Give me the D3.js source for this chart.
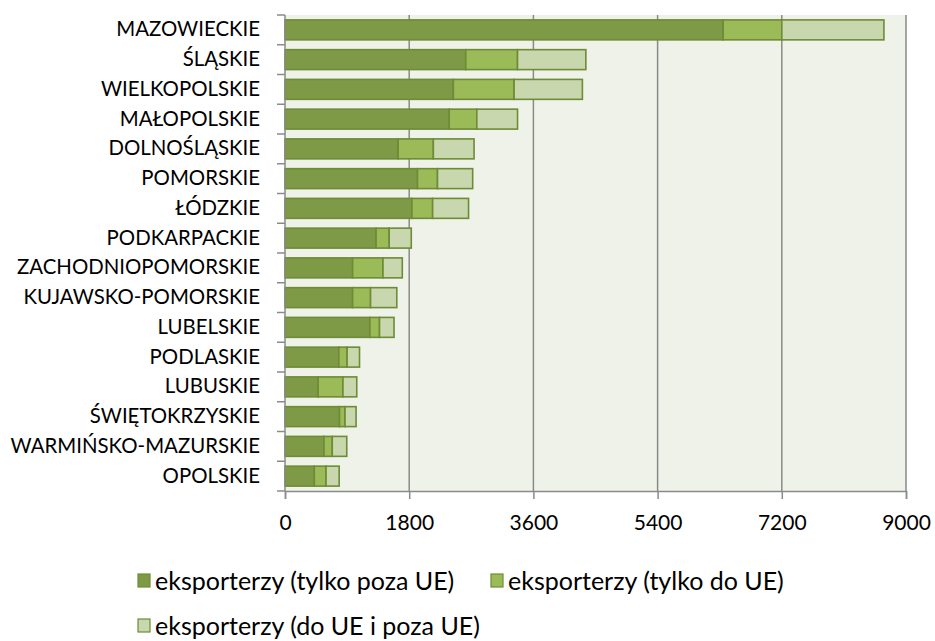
<!DOCTYPE html>
<html>
<head>
<meta charset="utf-8">
<script src="https://cdn.jsdelivr.net/npm/d3@7"></script>
<style>
  html, body { margin: 0; padding: 0; background: #fff; }
  svg { display: block; font-family: Lato, 'Open Sans', sans-serif; }
</style>
</head>
<body>
<svg id="chart" width="935" height="641"></svg>
<script>
// ── Data ───────────────────────────────────────────────
const regions = [
  'MAZOWIECKIE', 'ŚLĄSKIE', 'WIELKOPOLSKIE', 'MAŁOPOLSKIE', 'DOLNOŚLĄSKIE',
  'POMORSKIE', 'ŁÓDZKIE', 'PODKARPACKIE', 'ZACHODNIOPOMORSKIE', 'KUJAWSKO-POMORSKIE',
  'LUBELSKIE', 'PODLASKIE', 'LUBUSKIE', 'ŚWIĘTOKRZYSKIE', 'WARMIŃSKO-MAZURSKIE', 'OPOLSKIE'
];
const onlyOutsideEU = [6350, 2620, 2440, 2380, 1640, 1920, 1840, 1320, 980, 980, 1230, 780, 480, 790, 565, 425];
const onlyEU        = [850, 750, 880, 400, 510, 290, 300, 190, 440, 260, 140, 120, 360, 80, 120, 170];
const bothEU        = [1480, 990, 990, 590, 590, 510, 520, 320, 280, 380, 210, 180, 200, 160, 210, 190];
const seriesNames = [
  'eksporterzy (tylko poza UE)',
  'eksporterzy (tylko do UE)',
  'eksporterzy (do UE i poza UE)'
];
const xTicks = [0, 1800, 3600, 5400, 7200, 9000];

const colors = ['#7e9a47', '#9bbb59', '#c8d7ad'];
const barStroke = '#6e8b35';

// ── Setup ──────────────────────────────────────────────
const svg = d3.select('#chart');
const margin = { left: 285, top: 15, right: 29, bottom: 150 };
const W = 935, H = 641;
const plotW = W - margin.left - margin.right;
const plotH = H - margin.top - margin.bottom;

const x = d3.scaleLinear().domain([0, 9000]).range([0, plotW]);
const y = d3.scaleBand().domain(regions).range([0, plotH]).paddingInner(0.33).paddingOuter(0.165);

const g = svg.append('g').attr('transform', `translate(${margin.left},${margin.top})`);

// plot background
g.append('rect')
  .attr('width', plotW).attr('height', plotH)
  .attr('fill', '#eff2e8');

// gridlines
g.append('g').selectAll('line')
  .data(xTicks.slice(1))
  .join('line')
  .attr('x1', d => x(d)).attr('x2', d => x(d))
  .attr('y1', 0).attr('y2', plotH)
  .attr('stroke', '#8a8a8a').attr('stroke-width', 1.5);

// ── Stacked bars ───────────────────────────────────────
const rows = regions.map((r, i) => ({ region: r, s0: onlyOutsideEU[i], s1: onlyEU[i], s2: bothEU[i] }));
const stacked = d3.stack().keys(['s0', 's1', 's2'])(rows);

g.append('g').selectAll('g')
  .data(stacked)
  .join('g')
  .attr('fill', (d, i) => colors[i])
  .selectAll('rect')
  .data(d => d)
  .join('rect')
  .attr('x', d => x(d[0]))
  .attr('y', d => y(d.data.region))
  .attr('width', d => x(d[1]) - x(d[0]))
  .attr('height', y.bandwidth())
  .attr('stroke', barStroke)
  .attr('stroke-width', 1.6);

// ── Axes ───────────────────────────────────────────────
const yAxis = g.append('g').call(d3.axisLeft(y).tickSize(0).tickPadding(25));
yAxis.select('.domain').remove();
yAxis.selectAll('text').attr('font-size', 20.4).attr('fill', '#000').attr('font-family', 'Lato');

// category boundary ticks
const bounds = d3.range(regions.length + 1).map(i => i * y.step());
g.append('g').selectAll('line')
  .data(bounds)
  .join('line')
  .attr('x1', -8).attr('x2', 0)
  .attr('y1', d => d).attr('y2', d => d)
  .attr('stroke', '#8a8a8a').attr('stroke-width', 1.5);

g.append('line')
  .attr('x1', 0).attr('x2', 0).attr('y1', 0).attr('y2', plotH)
  .attr('stroke', '#8a8a8a').attr('stroke-width', 1.5);

const xAxis = g.append('g')
  .attr('transform', `translate(0,${plotH})`)
  .call(d3.axisBottom(x).tickValues(xTicks).tickFormat(d3.format('d')).tickSize(8).tickPadding(16));
xAxis.select('.domain').attr('stroke', '#8a8a8a').attr('stroke-width', 1.5);
xAxis.selectAll('.tick line').attr('stroke', '#8a8a8a').attr('stroke-width', 1.5);
xAxis.selectAll('text').attr('font-size', 21).attr('fill', '#000').attr('font-family', 'Lato');

// ── Legend ─────────────────────────────────────────────
const legendPos = [[138, 580], [491, 580], [138, 625]];
const legend = svg.append('g').selectAll('g')
  .data(seriesNames)
  .join('g')
  .attr('transform', (d, i) => `translate(${legendPos[i][0]},${legendPos[i][1]})`);

legend.append('rect')
  .attr('x', 0).attr('y', -6).attr('width', 12).attr('height', 13)
  .attr('fill', (d, i) => colors[i])
  .attr('stroke', barStroke).attr('stroke-width', 1.2);

legend.append('text')
  .attr('x', 17).attr('y', 0)
  .attr('dominant-baseline', 'central')
  .attr('font-size', 25)
  .attr('fill', '#000')
  .text(d => d);
</script>
</body>
</html>
